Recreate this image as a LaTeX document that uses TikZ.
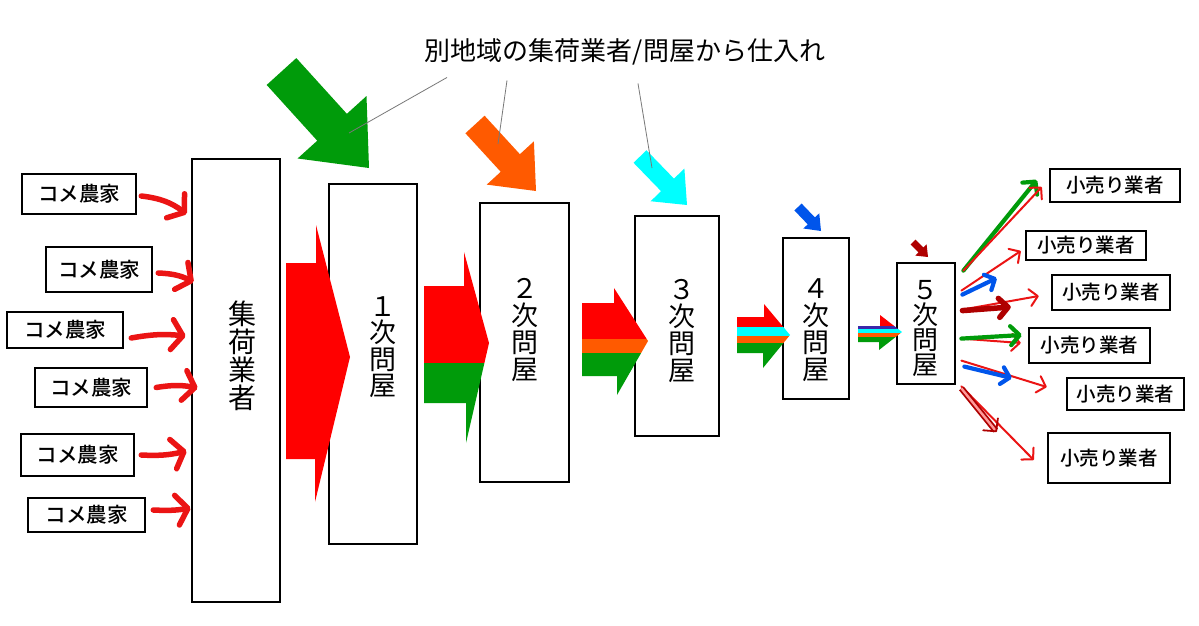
\documentclass[tikz,border=0pt]{standalone}
\usepackage{fontspec}
\setmainfont{Noto Sans CJK JP}
\newfontfamily\medfont{Noto Sans CJK JP Medium}
\usetikzlibrary{calc,arrows.meta}
\definecolor{cred}{RGB}{255,0,0}
\definecolor{fred}{RGB}{235,20,20}
\definecolor{cgreen}{RGB}{0,155,10}
\definecolor{corange}{RGB}{255,90,0}
\definecolor{ccyan}{RGB}{0,255,255}
\definecolor{cblue}{RGB}{0,85,235}
\definecolor{cnavy}{RGB}{60,40,170}
\definecolor{cdark}{RGB}{175,0,0}
\definecolor{cgrey}{RGB}{120,120,120}
\newcommand{\fatarr}[6]{%
  \coordinate (faT) at #2;
  \coordinate (faP) at #3;
  \coordinate (faB) at ($(faP)!#6!(faT)$);
  \fill[#1] ($(faT)!#4!90:(faP)$) -- ($(faB)!#4!90:(faP)$) -- ($(faB)!#5!90:(faP)$) -- (faP)
    -- ($(faB)!#5!-90:(faP)$) -- ($(faB)!#4!-90:(faP)$) -- ($(faT)!#4!-90:(faP)$) -- cycle;
}
\begin{document}
\begin{tikzpicture}[x=1pt,y=-1pt,
  tallbox/.style={draw, line width=2.8pt, inner sep=0pt, fill=white},
  farmbox/.style={draw, line width=2.5pt, inner sep=0pt, font=\fontsize{20.5}{20.5}\selectfont\medfont},
  shopbox/.style={draw, line width=2.5pt, inner sep=0pt, font=\fontsize{19.5}{19.5}\selectfont\medfont},
  vtext/.style={align=center, inner sep=0pt},
  farr/.style={draw=fred, line width=5.5pt, line cap=round, -{Straight Barb[round,length=11pt,width=30pt]}},
  thinarr/.style={draw=fred, line width=2pt, line cap=round, -{Straight Barb[round,length=8pt,width=17pt]}},
  greenarr/.style={draw=cgreen, line width=4.2pt, line cap=round, -{Straight Barb[round,length=9pt,width=19pt]}},
  bluearr/.style={draw=cblue, line width=4.2pt, line cap=round, -{Straight Barb[round,length=8pt,width=17pt]}},
  darkarr/.style={draw=cdark, line width=5.5pt, line cap=round, -{Straight Barb[round,length=9pt,width=19pt]}},
  darkdouble/.style={draw=cdark, line width=1.8pt, double=cred!40, double distance=2.4pt, -{Straight Barb[round,length=9pt,width=19pt]}},
  callout/.style={draw=cgrey, line width=0.8pt}
]
\useasboundingbox (0,0) rectangle (1199,626);
\fill[white] (0,0) rectangle (1199,626);

% title
\node[inner sep=0pt, font=\fontsize{26}{26}\selectfont] (title) at (625,52) {別地域の集荷業者/問屋から仕入れ};

% farmers
\node[farmbox, minimum width=114pt, minimum height=40pt] (f1) at (79,194) {コメ農家};
\node[farmbox, minimum width=106pt, minimum height=45pt] (f2) at (99,269.5) {コメ農家};
\node[farmbox, minimum width=116pt, minimum height=36pt] (f3) at (65,330) {コメ農家};
\node[farmbox, minimum width=112pt, minimum height=39pt] (f4) at (91,387.5) {コメ農家};
\node[farmbox, minimum width=113pt, minimum height=42pt] (f5) at (77.5,455) {コメ農家};
\node[farmbox, minimum width=117pt, minimum height=34pt] (f6) at (86.5,515) {コメ農家};

% tall boxes
\node[tallbox, minimum width=88pt, minimum height=443pt] (c0) at (236,380.5) {};
\node[tallbox, minimum width=88pt, minimum height=360pt] (p1) at (373,364) {};
\node[tallbox, minimum width=89pt, minimum height=279pt] (p2) at (524.5,342.5) {};
\node[tallbox, minimum width=84pt, minimum height=220pt] (p3) at (677,326) {};
\node[tallbox, minimum width=66pt, minimum height=161pt] (p4) at (816,318.5) {};
\node[tallbox, minimum width=58pt, minimum height=121pt] (p5) at (926,323.5) {};

\node[vtext, font=\fontsize{28}{28}\selectfont] (c0t) at (242,356) {集\\荷\\業\\者};
\node[vtext, font=\fontsize{27}{26.5}\selectfont] (p1t) at (383,347) {１\\次\\問\\屋};
\node[vtext, font=\fontsize{27}{27}\selectfont] (p2t) at (525,330) {２\\次\\問\\屋};
\node[vtext, font=\fontsize{27}{27}\selectfont] (p3t) at (682,331) {３\\次\\問\\屋};
\node[vtext, font=\fontsize{27}{27}\selectfont] (p4t) at (816,330) {４\\次\\問\\屋};
\node[vtext, font=\fontsize{26}{25}\selectfont] (p5t) at (925,328) {５\\次\\問\\屋};

% retailers
\node[shopbox, minimum width=130pt, minimum height=33pt] (r1) at (1115,185.5) {小売り業者};
\node[shopbox, minimum width=120pt, minimum height=29pt] (r2) at (1086,245.5) {小売り業者};
\node[shopbox, minimum width=118pt, minimum height=35pt] (r3) at (1111,292.5) {小売り業者};
\node[shopbox, minimum width=121pt, minimum height=35pt] (r4) at (1089.5,345.5) {小売り業者};
\node[shopbox, minimum width=117pt, minimum height=32pt] (r5) at (1125.5,394) {小売り業者};
\node[shopbox, minimum width=122pt, minimum height=50pt] (r6) at (1109,458) {小売り業者};

% farmer arrows
\draw[farr] ($(f1.east)+(4,2)$) to[bend left=15] ($(f1.east -| c0.west)+(-4,20)$);
\draw[farr] ($(f2.east)+(5,3.5)$) to[bend left=12] ($(f2.east -| c0.west)+(3,12.5)$);
\draw[farr] ($(f3.east)+(7,8)$) to[bend left=8] ($(f3.east -| c0.west)+(-5,6)$);
\draw[farr] ($(f4.east)+(8,0)$) to[bend left=10] ($(f4.east -| c0.west)+(7,0.5)$);
\draw[farr] ($(f5.east)+(6,0)$) to[bend right=8] ($(f5.east -| c0.west)+(-4,-4)$);
\draw[farr] ($(f6.east)+(7,-5)$) to[bend right=6] ($(f6.east -| c0.west)+(0,-7)$);

% flow arrows between stages
\fill[cred] (286,263) -- (316,263) -- (316,225) -- (350,357) -- (315,502) -- (315,459) -- (286,459) -- cycle;

\begin{scope}
\clip (424,286) -- (464,286) -- (464,252) -- (489,343) -- (466,443) -- (466,403) -- (424,403) -- cycle;
\fill[cred] (420,240) rectangle (495,363);
\fill[cgreen] (420,363) rectangle (495,450);
\end{scope}

\begin{scope}
\clip (582,303) -- (614,303) -- (614,288) -- (648,341) -- (617,395) -- (617,376) -- (582,376) -- cycle;
\fill[cred] (575,280) rectangle (655,339);
\fill[corange] (575,339) rectangle (655,353);
\fill[cgreen] (575,353) rectangle (655,400);
\end{scope}

\begin{scope}
\clip (737,317) -- (764,317) -- (764,304) -- (790,335) -- (763,368) -- (763,353) -- (737,353) -- cycle;
\fill[cred] (730,300) rectangle (795,327);
\fill[ccyan] (730,327) rectangle (795,336);
\fill[corange] (730,336) rectangle (795,343);
\fill[cgreen] (730,343) rectangle (795,372);
\end{scope}

\begin{scope}
\clip (858,326) -- (880,326) -- (880,315) -- (902,332) -- (879,350) -- (879,342) -- (858,342) -- cycle;
\fill[cred] (850,310) rectangle (905,326);
\fill[cnavy] (850,326) rectangle (905,328.5);
\fill[ccyan] (850,328.5) rectangle (905,333);
\fill[corange] (850,333) rectangle (905,337);
\fill[cgreen] (850,337) rectangle (905,355);
\end{scope}

% incoming arrows from other regions
\fatarr{cgreen}{(281.5,71.5)}{(369,168)}{20pt}{46.5pt}{55pt}
\fatarr{corange}{(475,124.5)}{(536,191)}{13pt}{32pt}{38pt}
\fatarr{ccyan}{(640,156.5)}{(687,205)}{9pt}{23.5pt}{28pt}
\fatarr{cblue}{(798,207)}{(821,231)}{5pt}{11pt}{14pt}
\fatarr{cdark}{(913,242)}{(928,257)}{3.5pt}{8pt}{10pt}

% callout lines
\draw[callout] ($(title.south)+(-178,12)$) -- (349,133);
\draw[callout] ($(title.south)+(-118,15)$) -- (498,144);
\draw[callout] ($(title.south)+(13,18)$) -- (652,168);

% arrows to retailers
\draw[greenarr] ($(p5.north east)+(7,9)$) -- ($(r1.west)+(-12,-5.5)$);
\draw[thinarr] ($(p5.north east)+(7,9)$) -- ($(r1.west)+(-7,1.5)$);
\draw[thinarr] ($(p5.north east)+(5,29)$) -- ($(r2.west)+(-4,5.5)$);
\draw[bluearr] ($(p5.north east)+(6,33)$) -- ($(r2.west)+(-28,32.5)$);
\draw[thinarr] ($(p5.north east)+(6,48)$) -- ($(r3.west)+(-12,3.5)$);
\draw[darkarr] ($(p5.north east)+(6,49)$) -- ($(r3.west)+(-40,14.5)$);
\draw[thinarr] ($(p5.north east)+(5,77)$) -- ($(r4.west)+(-7,-2.5)$);
\draw[greenarr] ($(p5.north east)+(5,77)$) -- ($(r4.west)+(-6,-10.5)$);
\draw[thinarr] ($(p5.north east)+(5,99)$) -- ($(r5.west)+(-19,-7)$);
\draw[bluearr] ($(p5.north east)+(8,105)$) -- ($(r5.west)+(-54,-16)$);
\draw[thinarr] ($(p5.south east)+(5,1)$) -- ($(r6.west)+(-13,2)$);
\draw[darkdouble] ($(p5.south east)+(5,3)$) -- ($(r6.west)+(-50,-26)$);
\end{tikzpicture}
\end{document}
